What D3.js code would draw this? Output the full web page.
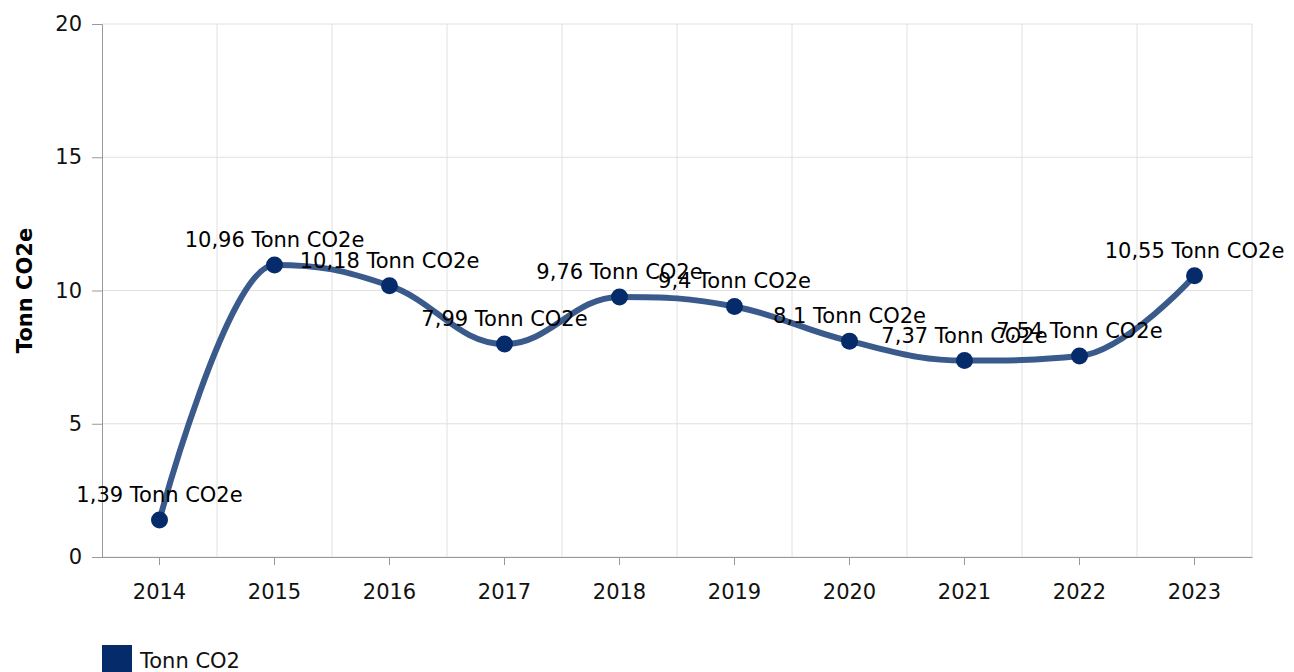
<!DOCTYPE html>
<html>
<head>
<meta charset="utf-8">
<script src="https://cdn.jsdelivr.net/npm/d3@7"></script>
<style>
  body { margin: 0; background: #fff; }
  svg text { font-family: "DejaVu Sans", Verdana, sans-serif; }
</style>
</head>
<body>
<div id="chart"></div>
<script>
const years = ["2014", "2015", "2016", "2017", "2018", "2019", "2020", "2021", "2022", "2023"];
const values = [1.39, 10.96, 10.18, 7.99, 9.76, 9.4, 8.1, 7.37, 7.54, 10.55];
const yTicks = [0, 5, 10, 15, 20];

const W = 1294, H = 672;
const margin = { top: 24, right: 42, bottom: 115, left: 102 };
const width = W - margin.left - margin.right;
const height = H - margin.top - margin.bottom;
const fs = 21;

const svg = d3.select("#chart").append("svg")
  .attr("width", W).attr("height", H);
const g = svg.append("g")
  .attr("transform", "translate(" + margin.left + "," + margin.top + ")");

const x = d3.scaleBand().domain(years).range([0, width]);
const y = d3.scaleLinear().domain([0, 20]).range([height, 0]);
const cx = (d) => x(d) + x.bandwidth() / 2;

// grid
g.selectAll(".hgrid").data(yTicks).enter().append("line")
  .attr("x1", 0).attr("x2", width)
  .attr("y1", (d) => y(d)).attr("y2", (d) => y(d))
  .attr("stroke", "#e0e0e0").attr("stroke-width", 1);
g.selectAll(".vgrid").data(years.slice(1).concat(["end"])).enter().append("line")
  .attr("x1", (d) => (d === "end" ? width : x(d)))
  .attr("x2", (d) => (d === "end" ? width : x(d)))
  .attr("y1", 0).attr("y2", height)
  .attr("stroke", "#e0e0e0").attr("stroke-width", 1);

// y axis
const yAxis = g.append("g")
  .call(d3.axisLeft(y).tickValues(yTicks).tickSize(10).tickPadding(10));
yAxis.select(".domain").attr("stroke", "#999");
yAxis.selectAll(".tick line").attr("stroke", "#999");
yAxis.selectAll("text").attr("font-size", fs).attr("fill", "#111");

// x axis
const xAxis = g.append("g")
  .attr("transform", "translate(0," + height + ")")
  .call(d3.axisBottom(x).tickSize(8).tickSizeOuter(0).tickPadding(19));
xAxis.select(".domain").attr("stroke", "#999");
xAxis.selectAll(".tick line").attr("stroke", "#999");
xAxis.selectAll("text").attr("font-size", fs).attr("fill", "#111");

// y title
svg.append("text")
  .attr("transform", "translate(32," + (margin.top + height / 2) + ") rotate(-90)")
  .attr("text-anchor", "middle")
  .attr("font-size", fs).attr("font-weight", "bold").attr("fill", "#000")
  .text("Tonn CO2e");

// spline path (smoothing 1.5, control points kept on a line through each point)
function splinePath(pts) {
  const sm = 1.5, den = sm + 1;
  const rc = pts.map((p) => [p[0], p[1]]);
  let d = "M" + pts[0][0] + "," + pts[0][1];
  for (let i = 1; i < pts.length; i++) {
    const [px, py] = pts[i];
    let lx = px, ly = py;
    if (i < pts.length - 1) {
      const [ax, ay] = pts[i - 1], [bx, by] = pts[i + 1];
      lx = (sm * px + ax) / den; ly = (sm * py + ay) / den;
      const rx = (sm * px + bx) / den;
      let ry = (sm * py + by) / den;
      const corr = ((ry - ly) * (rx - px)) / (rx - lx) + py - ry;
      ly += corr; ry += corr;
      if (ly > ay && ly > py) { ly = Math.max(ay, py); ry = 2 * py - ly; }
      else if (ly < ay && ly < py) { ly = Math.min(ay, py); ry = 2 * py - ly; }
      if (ry > by && ry > py) { ry = Math.max(by, py); ly = 2 * py - ry; }
      else if (ry < by && ry < py) { ry = Math.min(by, py); ly = 2 * py - ry; }
      rc[i] = [rx, ry];
    }
    d += "C" + rc[i - 1][0] + "," + rc[i - 1][1] + " " + lx + "," + ly + " " + px + "," + py;
  }
  return d;
}

const pts = values.map((v, i) => [cx(years[i]), y(v)]);
g.append("path")
  .attr("d", splinePath(pts))
  .attr("fill", "none")
  .attr("stroke", "#3a5a8c")
  .attr("stroke-width", 6)
  .attr("stroke-linecap", "round");

g.selectAll(".dot").data(values).enter().append("circle")
  .attr("cx", (d, i) => cx(years[i]))
  .attr("cy", (d) => y(d))
  .attr("r", 8.5)
  .attr("fill", "#062b6b");

g.selectAll(".lbl").data(values).enter().append("text")
  .attr("x", (d, i) => cx(years[i]))
  .attr("y", (d) => y(d) - 18)
  .attr("text-anchor", "middle")
  .attr("font-size", fs).attr("fill", "#000")
  .text((d) => String(d).replace(".", ",") + " Tonn CO2e");

// legend
svg.append("rect")
  .attr("x", 102).attr("y", 645).attr("width", 30).attr("height", 30)
  .attr("fill", "#062b6b");
svg.append("text")
  .attr("x", 140).attr("y", 668)
  .attr("font-size", fs).attr("fill", "#111")
  .text("Tonn CO2");
</script>
</body>
</html>
